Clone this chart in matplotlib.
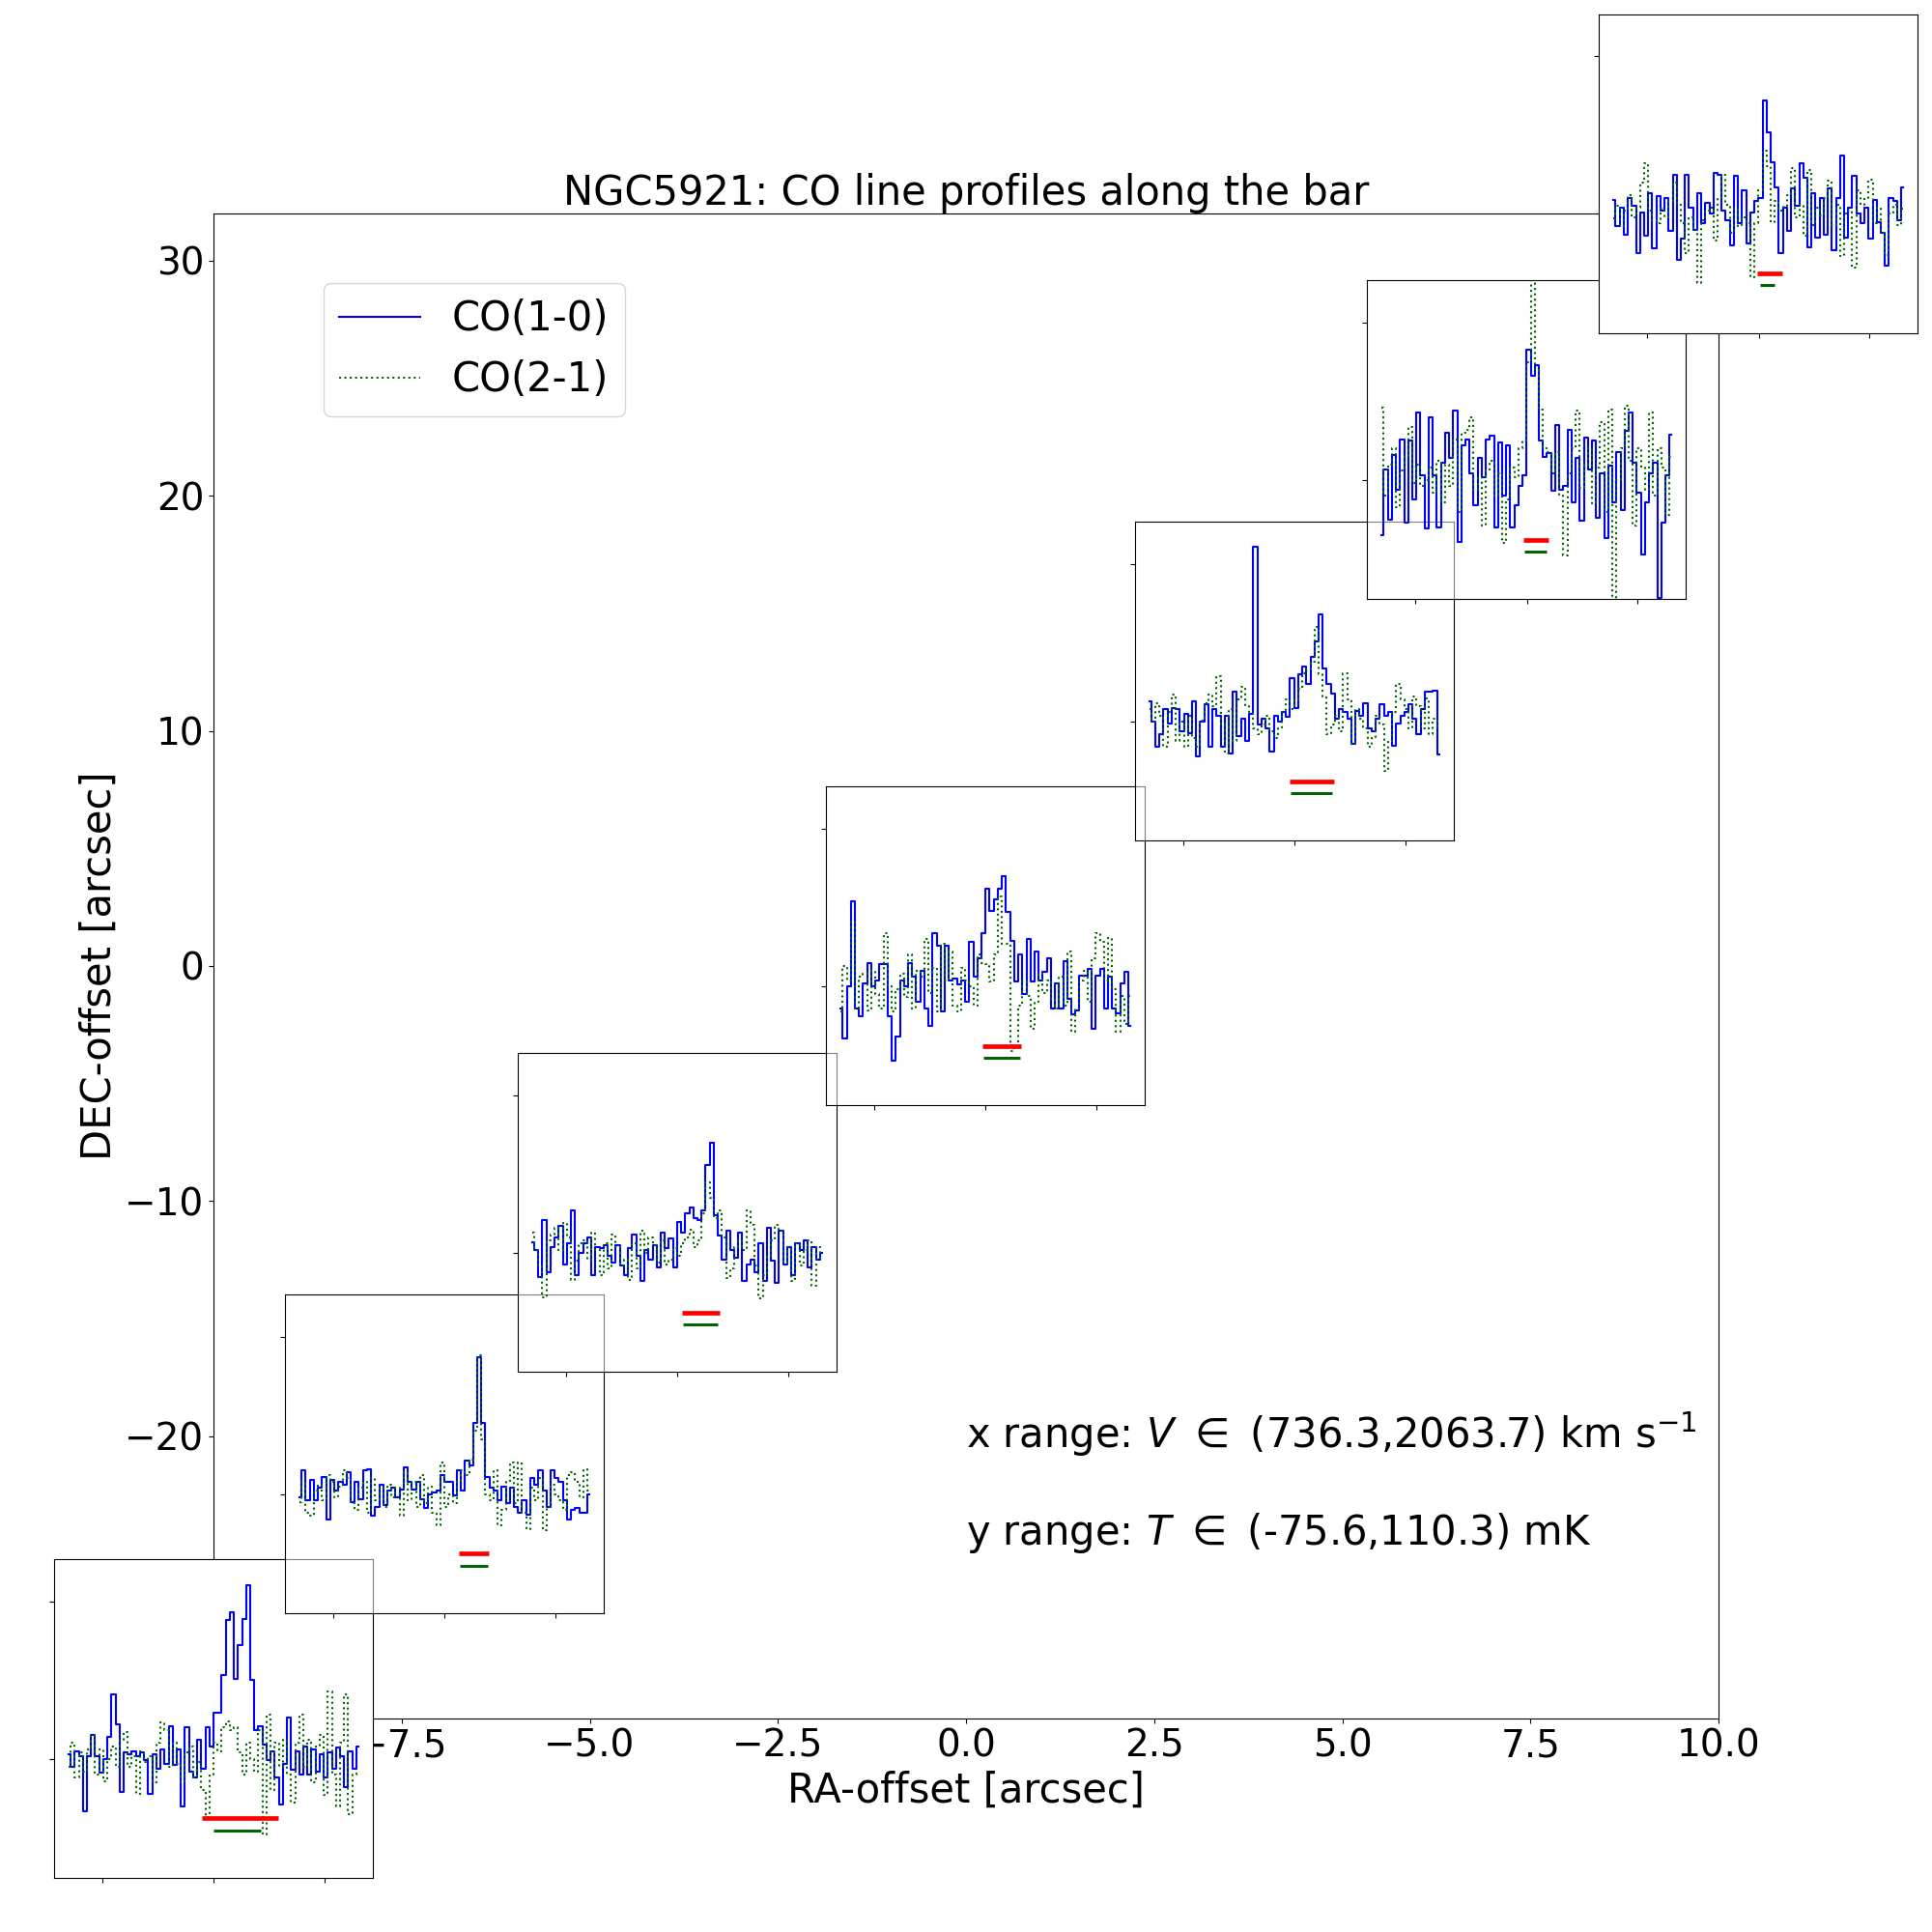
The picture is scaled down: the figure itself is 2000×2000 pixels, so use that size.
import numpy as np
import matplotlib
matplotlib.use('Agg')
import matplotlib.pyplot as plt
from matplotlib.lines import Line2D

# ========================
# DATA
# ========================
# inset positions on the main axes (RA / DEC offsets, arcsec)
ra_off = [-10.0, -6.93, -3.84, 0.26, 4.36, 7.45, 10.53]
dec_off = [-32.0, -20.74, -10.49, 0.85, 12.10, 22.38, 33.70]

# spectra in mK, channels spread evenly over the velocity range
co10_1 = [3, -5, 5, 2, -33, 2, 15, 2, -9, 0, 14, 41, 22, -21, 4, 3, 5, 2, 4, -1,
          -22, 3, -6, 6, -3, 21, -4, 6, -30, 20, -8, -12, 12, -6, 20, 8, 29, 29, 53, 88,
          93, 51, 72, 89, 110, 50, 18, 21, 9, -1, 5, -12, -29, -3, 26, -7, 5, -10, 8, -10,
          6, -8, 3, -12, 4, -6, 7, 2, -18, 5, -6, 8]
co21_1 = [-5, 10, -12, 4, -8, 6, 15, -10, 6, -14, 0, 8, -5, 12, 17, -5, 2, -22, 5, -2,
          2, -15, 10, 23, 18, -5, 10, -3, -15, 4, 8, -12, -2, -20, -37, -10, 10, 5, 20, 24,
          18, 20, 4, -10, 10, 0, -8, 18, -48, 28, -20, 10, -5, 12, -10, -28, 10, 28, -5, 12,
          -15, 8, 15, -23, 43, -10, -30, 10, 41, -35, -10, -8]

co10_2 = [-2, 15, -4, 9, -4, 4, 11, -16, 9, 2, 8, 6, 14, -5, 8, -3, 15, 16, -14, -8,
          6, -7, 2, 4, -2, 3, 17, 8, 3, 8, -3, -9, 0, 1, 2, 12, 8, 8, -1, 15,
          2, 21, 18, 45, 87, 45, 11, 4, 2, -4, 5, -6, 4, -8, -12, -4, -13, 10, 6, 15,
          2, -8, 15, 10, 8, -4, -16, -10, -9, -12, -12, 0]
co21_2 = [-5, 8, -12, -14, 2, 6, -4, 12, 8, -2, 5, 15, 10, -6, -10, 4, 8, -12, 10, -4,
          4, -8, 6, -2, 4, -14, 14, -4, 8, -8, 12, -6, 5, -12, -20, 20, -8, 0, -6, 8,
          15, 12, 22, 40, 88, 35, 0, -4, 15, -20, -10, 8, 20, -6, 20, -12, -22, 4, -4, 10,
          -23, -8, 6, 0, -4, -10, 12, 14, 8, -2, 16, 2]

co10_3 = [7, 2, -15, 21, -12, 4, 10, 17, -7, 6, 27, -14, 0, 6, 10, -14, 4, 3, 5, -2,
          -6, 5, -8, -14, 3, 12, -2, -18, 2, -4, 5, -9, 13, 3, 9, -9, 20, 13, 25, 29,
          22, 21, 27, 56, 70, 24, 11, -4, 14, 2, -3, 13, -18, -7, -4, -12, 6, -18, 16, -5,
          -19, 14, -7, 4, -14, 6, 2, 8, -9, 4, -4, 0]
co21_3 = [13, 2, -8, -28, 8, 12, 16, 2, 19, 10, -17, -5, 6, 8, -4, 13, 2, -14, 6, -10,
          12, 4, -8, -4, -17, 6, -10, 14, 0, 10, 5, -6, 8, -7, -4, 3, -2, 6, 10, 15,
          4, 8, 25, 45, 35, 22, 27, 10, -16, -10, 4, 8, 2, 27, 18, -8, -29, -14, -2, 8,
          18, 14, -6, 4, -18, 6, -8, 2, 8, -21, 4, -4]

co10_4 = [-14, -33, 0, 54, -14, -19, 2, 15, 0, 4, 14, 14, -19, -47, -32, 4, 0, 15, 6, -10,
          10, -14, -25, 34, 26, -16, 26, 4, 5, 1, 4, -10, 28, 6, 18, 34, 62, 48, 55, 62,
          70, 47, 29, 3, 20, -5, 30, 3, 22, 4, 9, 18, -14, 2, -14, 16, -8, -18, -15, 7,
          7, 11, -27, 7, 11, -14, 6, -14, -17, 2, 9, -25]
co21_4 = [-16, 13, 4, 41, -14, 6, 8, -15, 10, -5, -14, 34, 0, -16, -2, 8, -7, 20, -14, 10,
          6, 30, -4, 12, -16, 27, 4, 22, -12, -16, 12, 4, 0, -12, 20, 15, 14, 3, 20, 57,
          27, 27, -41, -38, -12, 3, -6, -27, -10, 8, -4, 4, -8, -14, 6, -12, 22, -29, -14, 4,
          10, -10, 18, 34, 28, 4, 31, -2, -29, -6, -24, -6]

co10_5 = [13, 0, -16, -8, 8, -1, 9, 8, -6, 5, -7, 13, -22, 0, 11, -16, 8, 4, -16, 4,
          -20, 19, -9, 2, -12, 5, 111, -2, 2, -4, -19, 4, 0, 6, 3, 28, 9, 30, 35, 24,
          41, 51, 68, 34, 24, 18, 2, 8, 6, 2, -14, 7, 4, 12, -4, -6, 2, 11, 4, 6,
          -15, -1, 4, 6, 11, 2, -8, 8, 19, 19, 20, -21]
co21_5 = [8, 0, 12, 4, -16, 6, 17, -12, 0, -16, 4, -10, -16, 1, 12, 17, 10, 29, -2, -20,
          8, -12, 14, 22, 10, 6, -4, -8, -2, 4, -6, -10, -4, 6, 14, 8, 14, 21, 31, 33,
          38, 60, 30, 16, -8, -2, 4, -6, 31, 14, -14, 8, 2, -4, -16, -10, 4, -2, -31, -12,
          6, 24, 14, 8, -4, 16, 10, -4, 15, -8, 2, -4]

co10_6 = [-35, 7, -25, 16, -6, 26, -27, 25, -12, 43, 3, -31, 40, 3, -30, 11, 30, 14, 44, -39,
          22, 26, 4, -16, 14, 2, 26, 28, -30, 24, -10, 22, -30, -16, -4, 3, 83, 66, 73, 25,
          15, 17, -7, 35, -6, -4, 32, -14, 14, -26, 27, 7, 25, -24, 4, -37, 9, -14, 18, -19,
          31, 43, 11, -8, -47, -14, 4, 11, -75, -27, 3, 29]
co21_6 = [46, -10, 10, 20, -17, 6, 15, 34, -2, 10, -4, 0, 8, -8, 12, -14, 10, -4, 26, -20,
          30, 32, 40, -6, 2, -29, 6, 12, -10, 4, -40, -12, 8, 2, 20, 25, 75, 140, 70, 45,
          20, 18, 4, 18, -10, -48, 4, 20, 44, -5, 10, 20, -15, 8, 37, -20, 45, -76, 0, 20,
          47, 12, -29, 20, 8, -6, 43, -10, 20, 8, -22, 15]

co10_7 = [9, -8, 4, -13, 10, 5, -25, 1, -14, 13, -22, 11, 2, 10, -11, 25, -29, -16, 25, 4,
          -10, 13, -6, 7, 0, 26, 25, 2, -4, -20, 24, -6, 15, -19, 1, 8, 10, 72, 52, 33,
          17, -25, 4, -11, 16, 5, 32, 23, -21, 13, -15, 10, -13, 16, -23, 10, 37, -15, 4, 24,
          0, -6, 4, -16, 9, -5, -12, -33, 10, 8, -4, 17]
co21_7 = [-3, 5, -8, 2, 12, -2, 4, 20, 32, 2, -4, -6, 3, -2, 8, 20, 6, -6, -25, -2,
          -10, -44, -4, 2, 4, -17, 10, 25, 6, -12, 3, -8, -2, -6, -40, -6, 15, 40, 30, -5,
          8, 2, 5, 12, 29, -2, 6, -14, 28, -7, 4, -1, 10, 21, -7, 6, -27, 0, 2, -34,
          15, 6, 10, 22, -6, 4, -12, -26, 0, 6, -7, 3]

co10 = [co10_1, co10_2, co10_3, co10_4, co10_5, co10_6, co10_7]
co21 = [co21_1, co21_2, co21_3, co21_4, co21_5, co21_6, co21_7]

# velocity windows of the line (km/s), red = CO(1-0), green = CO(2-1)
red_lo = [1346, 1466, 1422, 1387, 1378, 1387, 1394]
red_hi = [1695, 1603, 1594, 1563, 1581, 1498, 1509]
grn_lo = [1398, 1470, 1426, 1391, 1382, 1391, 1407]
grn_hi = [1617, 1597, 1588, 1559, 1575, 1492, 1473]

V_MIN, V_MAX = 736.3, 2063.7
T_MIN, T_MAX = -75.6, 110.3

# ========================
# STYLE
# ========================
FONT_SIZE_TICK = 28
FONT_SIZE_LABEL = 30
FONT_SIZE_TITLE = 30
plt.rcParams.update({
    'font.size': FONT_SIZE_LABEL,
    'xtick.labelsize': FONT_SIZE_TICK,
    'ytick.labelsize': FONT_SIZE_TICK,
    'axes.labelsize': FONT_SIZE_LABEL,
    'axes.titlesize': FONT_SIZE_TITLE,
    'legend.fontsize': FONT_SIZE_LABEL,
})
INSET_SIZE = 0.165                            # in figure fraction
inset_face_alpha = [1, 0.5, 0.5, 0.5, 0.5, 0.5, 1]

# ========================
# MAIN AXES
# ========================
fig = plt.figure(figsize=(20, 20), dpi=100)
ax = fig.add_axes([0.1105, 0.1105, 0.779, 0.779])
ax.set_xlim(-10, 10)
ax.set_ylim(-32, 32)
ax.set_xlabel('RA-offset [arcsec]')
ax.set_ylabel('DEC-offset [arcsec]')
ax.set_title('NGC5921: CO line profiles along the bar')

handles = [Line2D([], [], color='blue', lw=1.5),
           Line2D([], [], color='darkgreen', ls=':', lw=1.5)]
ax.legend(handles, ['CO(1-0)', 'CO(2-1)'], loc='upper left',
          bbox_to_anchor=(0.073, 0.954), borderaxespad=0)

ax.text(0.0, -20.5, r'x range: $V\ \in$ (%.1f,%.1f) km s$^{-1}$' % (V_MIN, V_MAX))
ax.text(0.0, -24.6, r'y range: $T\ \in$ (%.1f,%.1f) mK' % (T_MIN, T_MAX))

# ========================
# INSETS
# ========================
to_fig = fig.transFigure.inverted()
dv = 0.05 * (V_MAX - V_MIN)
for i in range(len(ra_off)):
    xf, yf = to_fig.transform(ax.transData.transform((ra_off[i], dec_off[i])))
    iax = fig.add_axes([xf - INSET_SIZE / 2, yf - INSET_SIZE / 2,
                        INSET_SIZE, INSET_SIZE])
    iax.patch.set_alpha(inset_face_alpha[i])

    v10 = np.linspace(V_MIN, V_MAX, len(co10[i]))
    v21 = np.linspace(V_MIN, V_MAX, len(co21[i]))
    iax.plot(v10, co10[i], color='blue', lw=1.5, drawstyle='steps-mid')
    iax.plot(v21, co21[i], color='darkgreen', ls=':', lw=1.5, drawstyle='steps-mid')
    iax.hlines(0.5 * T_MIN, red_lo[i], red_hi[i], color='red', lw=3.4)
    iax.hlines(0.6 * T_MIN, grn_lo[i], grn_hi[i], color='darkgreen', lw=2.2)

    iax.set_xlim(V_MIN - dv, V_MAX + dv)
    iax.set_ylim(T_MIN, 1.15 * T_MAX)
    iax.set_xticks([891, 1401, 1909])
    iax.set_yticks([0, 100])
    iax.set_xticklabels([])
    iax.set_yticklabels([])

fig.savefig('out.png', dpi=100)
